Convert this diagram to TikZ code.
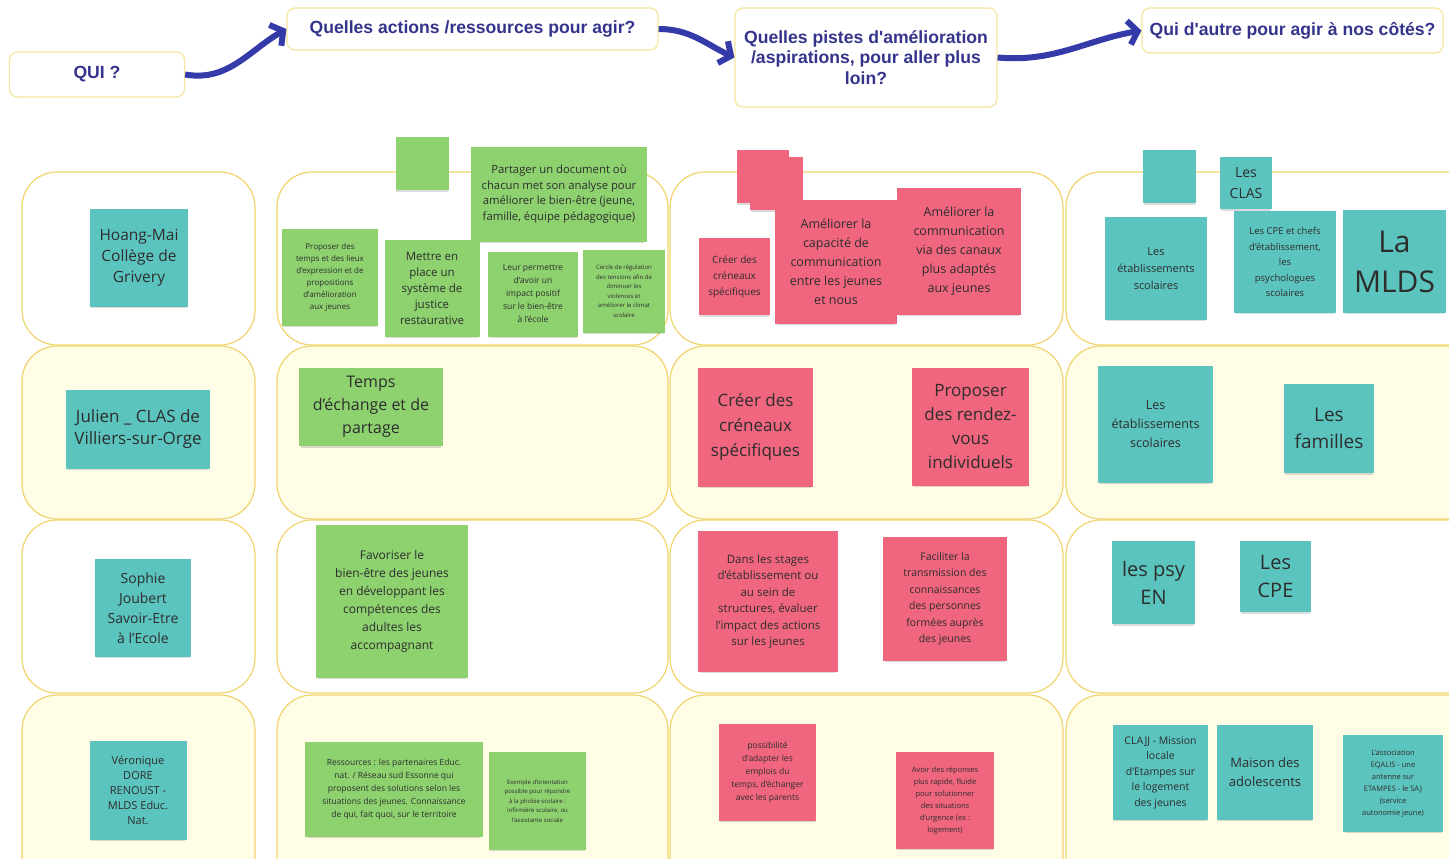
\documentclass[tikz,border=0pt]{standalone}
\usepackage{fontspec}
\setmainfont{Open Sans}
\newfontfamily\headfont{Liberation Sans}
\usepackage{tikz}
\usetikzlibrary{arrows.meta, shadows}

\definecolor{headblue}{RGB}{52,52,140}
\definecolor{arrowblue}{RGB}{52,58,168}
\definecolor{laneline}{RGB}{240,212,110}
\definecolor{lanefill}{RGB}{255,253,230}
\definecolor{headline}{RGB}{245,230,160}
\definecolor{noteteal}{RGB}{92,196,190}
\definecolor{notegreen}{RGB}{142,210,112}
\definecolor{notepink}{RGB}{240,102,126}
\definecolor{notetext}{RGB}{45,45,45}
\newcommand{\fsz}[2]{\fontsize{#1}{#2}\selectfont}

\begin{document}
\begin{tikzpicture}[
        x=1pt, y=-1pt,
        sz/.style 2 args={minimum width=#1pt, minimum height=#2pt},
        head/.style={rectangle, draw=headline, line width=1.2pt, rounded corners=8pt, fill=white, text=headblue, font=\headfont\bfseries\fsz{17.6}{20.5}, align=center, inner sep=2pt},
        lane/.style={draw=laneline, line width=1.2pt, rounded corners=35pt},
        note/.style={rectangle, inner sep=2pt, align=center, text=notetext, drop shadow={shadow xshift=0pt, shadow yshift=-3pt, shadow scale=0.97, opacity=0.14, fill=black}},
        tnote/.style={note, fill=noteteal},
        gnote/.style={note, fill=notegreen},
        pnote/.style={note, fill=notepink},
        flow/.style={draw=arrowblue, line width=6pt, -{Straight Barb[length=9pt, width=24pt]}}
    ]
        \useasboundingbox (0,0) rectangle (1449,859);
        \clip (0,0) rectangle (1449,859);
        \fill[white] (0,0) rectangle (1449,859);

        % lanes
        \foreach \ya/\yb/\fc in {172/345/white, 346/519/lanefill, 520/693/white, 695/900/lanefill}
            \foreach \xa/\xb in {22/255, 277/668, 670/1063, 1066/1490}
                \draw[lane, fill=\fc] (\xa,\ya) rectangle (\xb,\yb);

        % headers
        \node[head, sz={175}{45}] (qui) at (97,74.5) {QUI ?};
        \node[head, sz={371}{42}] (actions) at (472.5,29) {Quelles actions /ressources pour agir?};
        \node[head, sz={262}{99}] (pistes) at (866,57.5) {Quelles pistes d'amélioration\\/aspirations, pour aller plus\\loin?};
        \node[head, sz={301}{45}] (autre) at (1292.5,30.5) {Qui d'autre pour agir à nos côtés?};

        \draw[flow] (qui.east) to[out=-10, in=210] (actions.west);
        \draw[flow] (actions.east) to[out=0, in=155] (pistes.west);
        \draw[flow] (pistes.east) to[out=-5, in=190] (autre.west);

        % qui
        \node[tnote, sz={98}{98}, font=\fsz{15.5}{21}] (hoang) at (139,258) {Hoang-Mai\\Collège de\\Grivery};
        \node[tnote, sz={144}{79}, font=\fsz{17}{22}] (julien) at (138,429) {Julien \_ CLAS de\\Villiers-sur-Orge};
        \node[tnote, sz={96}{98}, font=\fsz{14}{20}] (sophie) at (143,608) {Sophie\\Joubert\\Savoir-Etre\\à l'Ecole};
        \node[tnote, sz={97}{99}, font=\fsz{11}{15}] (veronique) at (138,790) {Véronique\\DORE\\RENOUST -\\MLDS Educ.\\Nat.};

        % actions / ressources
        \node[gnote, sz={53}{53}] (gblank) at (422,163) {};
        \node[gnote, sz={176}{95}, font=\fsz{11.3}{15.5}] (partager) at (559,194) {Partager un document où\\chacun met son analyse pour\\améliorer le bien-être (jeune,\\famille, équipe pédagogique)};
        \node[gnote, sz={96}{97}, font=\fsz{8}{12}] (proposer) at (330,277) {Proposer des\\temps et des lieux\\d'expression et de\\propositions\\d'amélioration\\aux jeunes};
        \node[gnote, sz={95}{97}, font=\fsz{11.5}{16}] (justice) at (432,288) {Mettre en\\place un\\système de\\justice\\restaurative};
        \node[gnote, sz={90}{85}, font=\fsz{8.5}{13}] (impact) at (533,294) {Leur permettre\\d'avoir un\\impact positif\\sur le bien-être\\à l'école};
        \node[gnote, sz={82}{83}, font=\fsz{6}{9.5}] (cercle) at (624,291) {Cercle de régulation\\des tensions afin de\\diminuer les\\violences et\\améliorer le climat\\scolaire};
        \node[gnote, sz={144}{78}, font=\fsz{16}{23}] (temps) at (371,407) {Temps\\d'échange et de\\partage};
        \node[gnote, sz={152}{153}, font=\fsz{12}{18}] (favoriser) at (392,601.5) {Favoriser le\\bien-être des jeunes\\en développant les\\compétences des\\adultes les\\accompagnant};
        \node[gnote, sz={178}{95}, font=\fsz{8.5}{13}] (ressources) at (394,789.5) {Ressources : les partenaires Educ.\\nat. / Réseau sud Essonne qui\\proposent des solutions selon les\\situations des jeunes. Connaissance\\de qui, fait quoi, sur le territoire};
        \node[gnote, sz={97}{98}, font=\fsz{6}{9.5}] (exemple) at (537.5,801) {Exemple d'orientation\\possible pour répondre\\à la phobie scolaire :\\infirmière scolaire, ou\\l'assistante sociale};

        % pistes d'amelioration
        \node[pnote, sz={52}{53}] (pblanka) at (763,176.5) {};
        \node[pnote, sz={53}{53}] (pblankb) at (776.5,183.5) {};
        \node[pnote, sz={71}{77}, font=\fsz{10}{16}] (creneauxa) at (734.5,276.5) {Créer des\\créneaux\\spécifiques};
        \node[pnote, sz={122}{124}, font=\fsz{12.5}{19}] (capacite) at (836,262) {Améliorer la\\capacité de\\communication\\entre les jeunes\\et nous};
        \node[pnote, sz={124}{127}, font=\fsz{12.5}{19}] (canaux) at (959,251.5) {Améliorer la\\communication\\via des canaux\\plus adaptés\\aux jeunes};
        \node[pnote, sz={115}{119}, font=\fsz{17}{25}] (creneauxb) at (755.5,427.5) {Créer des\\créneaux\\spécifiques};
        \node[pnote, sz={117}{118}, font=\fsz{17}{24}] (rdv) at (970.5,427) {Proposer\\des rendez-\\vous\\individuels};
        \node[pnote, sz={140}{141}, font=\fsz{11.5}{16.5}] (stages) at (768,601.5) {Dans les stages\\d'établissement ou\\au sein de\\structures, évaluer\\l'impact des actions\\sur les jeunes};
        \node[pnote, sz={124}{124}, font=\fsz{10.5}{16.5}] (faciliter) at (945,599) {Faciliter la\\transmission des\\connaissances\\des personnes\\formées auprès\\des jeunes};
        \node[pnote, sz={97}{97}, font=\fsz{8.5}{13}] (emplois) at (767.5,772.5) {possibilité\\d'adapter les\\emplois du\\temps, d'échanger\\avec les parents};
        \node[pnote, sz={98}{97}, font=\fsz{7.5}{12}] (urgence) at (945,800.5) {Avoir des réponses\\plus rapide, fluide\\pour solutionner\\des situations\\d'urgence (ex :\\logement)};

        % qui d'autre
        \node[tnote, sz={53}{53}] (tblank) at (1169.5,176.5) {};
        \node[tnote, sz={52}{52}, font=\fsz{14}{21}] (clas) at (1246,183) {Les\\CLAS};
        \node[tnote, sz={102}{103}, font=\fsz{11}{17}] (etaba) at (1156,268.5) {Les\\établissements\\scolaires};
        \node[tnote, sz={102}{102}, font=\fsz{9.5}{15.5}] (cpea) at (1285,262) {Les CPE et chefs\\d'établissement,\\les\\psychologues\\scolaires};
        \node[tnote, sz={103}{103}, font=\fsz{30}{40}] (mlds) at (1394.5,261.5) {La\\MLDS};
        \node[tnote, sz={115}{117}, font=\fsz{12.5}{19}] (etabb) at (1155.5,424.5) {Les\\établissements\\scolaires};
        \node[tnote, sz={90}{89}, font=\fsz{19}{27}] (familles) at (1329,428.5) {Les\\familles};
        \node[tnote, sz={83}{83}, font=\fsz{20}{28}] (psy) at (1153.5,582.5) {les psy\\EN};
        \node[tnote, sz={71}{71}, font=\fsz{20}{28}] (cpeb) at (1275.5,576.5) {Les\\CPE};
        \node[tnote, sz={95}{95}, font=\fsz{10.5}{15.5}] (clajj) at (1160.5,772.5) {CLAJJ - Mission\\locale\\d'Etampes sur\\le logement\\des jeunes};
        \node[tnote, sz={96}{95}, font=\fsz{13}{19}] (maison) at (1265,772.5) {Maison des\\adolescents};
        \node[tnote, sz={100}{97}, font=\fsz{7.5}{12}] (eqalis) at (1393,783.5) {L'association\\EQALIS - une\\antenne sur\\ETAMPES - le SAJ\\(service\\autonomie jeune)};
    \end{tikzpicture}
\end{document}
